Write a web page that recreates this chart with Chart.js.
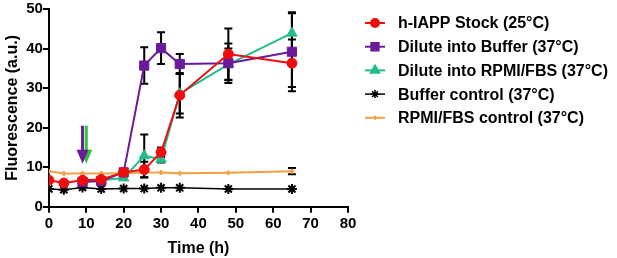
<!DOCTYPE html>
<html>
<head>
<meta charset="utf-8">
<script src="https://cdn.jsdelivr.net/npm/chart.js@4/dist/chart.umd.min.js"></script>
<style>
  html, body { margin: 0; padding: 0; background: #fff; }
  #wrap { width: 617px; height: 258px; }
</style>
</head>
<body>
<div id="wrap"><canvas id="fluoChart" width="617" height="258"></canvas></div>
<script>
// time points (h)
var times = [0, 4, 9, 14, 20, 25.5, 30, 35, 48, 65];

var stock      = [6.7, 6.0, 6.7, 6.9, 8.7, 9.4, 13.8, 28.2, 38.6, 36.3];
var stockErr   = [0, 0, 0, 0, 0, 2.0, 1.2, 5.6, 6.5, 6.0];
var buffer     = [null, null, 6.3, 6.5, 8.7, 35.7, 40.1, 36.1, 36.3, 39.2];
var bufferErr  = [0, 0, 0, 0, 0, 4.6, 4.0, 2.5, 5.0, 10.0];
var rpmi       = [null, null, 6.5, 6.7, 7.3, 12.9, 12.0, 28.6, 36.0, 43.9];
var rpmiErr    = [0, 0, 0, 0, 0, 5.4, 0.8, 5.0, 4.0, 5.0];
var bufCtrl    = [4.5, 4.3, 4.9, 4.5, 4.6, 4.6, 4.8, 4.8, 4.5, 4.5];
var rpmiCtrl   = [9.0, 8.4, 8.4, 8.4, 8.5, 8.7, 8.7, 8.5, 8.6, 9.0];
var rpmiCtrlErr= [0, 0, 0, 0, 0, 0, 0, 0, 0, 0.8];

var labels = ["h-IAPP Stock (25\u00B0C)", "Dilute into Buffer (37\u00B0C)",
              "Dilute into RPMI/FBS (37\u00B0C)", "Buffer control (37\u00B0C)",
              "RPMI/FBS control (37\u00B0C)"];

// dilution arrows: time, top and tip (fluorescence units)
var arrowTimes = [10, 9];
var arrowTop = 20.5;
var arrowTip = 10.9;

var xTicks = [0, 80, 10];
var yTicks = [0, 50, 10];

Chart.defaults.font.family = "'Liberation Sans', Arial, sans-serif";
Chart.defaults.font.weight = "bold";
Chart.defaults.color = "#000";

function pts(vals) {
  return times.map(function (t, i) { return { x: t, y: vals[i] }; });
}

function series(label, vals, errs, color, style, radius, width) {
  return {
    label: label,
    data: pts(vals),
    errs: errs,
    borderColor: color,
    backgroundColor: color,
    pointBackgroundColor: color,
    pointBorderColor: color,
    pointStyle: style,
    pointRadius: radius,
    pointBorderWidth: style === 'star' || style === 'cross' ? 2 : 1,
    borderWidth: width,
    showLine: true,
    spanGaps: false,
    tension: 0
  };
}

var datasets = [
  series(labels[0], stock, stockErr, '#f00d0d', 'circle', 5, 2),
  series(labels[1], buffer, bufferErr, '#6a1b9a', 'rect', 6.5, 2),
  series(labels[2], rpmi, rpmiErr, '#22bd8b', 'triangle', 6, 2),
  series(labels[3], bufCtrl, null, '#000000', 'star', 5, 1.5),
  series(labels[4], rpmiCtrl, rpmiCtrlErr, '#f5a041', 'cross', 2.5, 2)
];

var errorBars = {
  id: 'errorBars',
  beforeDatasetsDraw: function (chart) {
    var ctx = chart.ctx, ys = chart.scales.y;
    ctx.save();
    ctx.strokeStyle = '#000';
    ctx.lineWidth = 2;
    chart.data.datasets.forEach(function (ds, i) {
      if (!ds.errs) return;
      var meta = chart.getDatasetMeta(i);
      ds.errs.forEach(function (e, j) {
        var v = ds.data[j].y;
        if (!e || v === null) return;
        var x = meta.data[j].x;
        var t = ys.getPixelForValue(v + e), b = ys.getPixelForValue(v - e);
        ctx.beginPath();
        ctx.moveTo(x, t); ctx.lineTo(x, b);
        ctx.moveTo(x - 4, t); ctx.lineTo(x + 4, t);
        ctx.moveTo(x - 4, b); ctx.lineTo(x + 4, b);
        ctx.stroke();
      });
    });
    ctx.restore();
  }
};

var arrows = {
  id: 'arrows',
  afterDatasetsDraw: function (chart) {
    var ctx = chart.ctx, xs = chart.scales.x, ys = chart.scales.y;
    var colors = ['#2fc43a', '#6a1b9a'];
    arrowTimes.forEach(function (t, i) {
      var x = xs.getPixelForValue(t);
      var top = ys.getPixelForValue(arrowTop), tip = ys.getPixelForValue(arrowTip);
      ctx.save();
      ctx.strokeStyle = colors[i];
      ctx.fillStyle = colors[i];
      ctx.lineWidth = 3;
      ctx.beginPath(); ctx.moveTo(x, top); ctx.lineTo(x, tip - 12); ctx.stroke();
      ctx.beginPath();
      ctx.moveTo(x - 6, tip - 14); ctx.lineTo(x + 6, tip - 14); ctx.lineTo(x, tip);
      ctx.closePath(); ctx.fill();
      ctx.restore();
    });
  }
};

// legend on the right: short line with marker, then the label
var sideLegend = {
  id: 'sideLegend',
  afterDraw: function (chart) {
    var ctx = chart.ctx, area = chart.chartArea;
    var x0 = area.right + 17, y0 = area.top + 14, step = 23.7;
    ctx.save();
    chart.data.datasets.forEach(function (ds, i) {
      var y = y0 + i * step;
      ctx.strokeStyle = ds.borderColor;
      ctx.lineWidth = ds.borderWidth;
      ctx.beginPath(); ctx.moveTo(x0, y); ctx.lineTo(x0 + 20, y); ctx.stroke();
      ctx.fillStyle = ds.borderColor;
      Chart.helpers.drawPoint(ctx, {
        pointStyle: ds.pointStyle, radius: ds.pointRadius * 0.8, rotation: 0,
        borderWidth: ds.pointBorderWidth
      }, x0 + 10, y);
      ctx.fillStyle = '#000';
      ctx.font = "bold 16px 'Liberation Sans', Arial, sans-serif";
      ctx.textBaseline = 'middle';
      ctx.textAlign = 'left';
      ctx.fillText(ds.label, x0 + 33, y + 1);
    });
    ctx.restore();
  }
};

var axisGrid = {
  display: true, drawOnChartArea: false, drawTicks: true,
  tickLength: 6, color: '#000', lineWidth: 2
};

var fluoChart = new Chart(document.getElementById('fluoChart'), {
  type: 'scatter',
  data: { datasets: datasets },
  plugins: [errorBars, arrows, sideLegend],
  options: {
    responsive: false,
    animation: false,
    layout: { padding: { top: 0, left: 3, right: 269, bottom: 0 } },
    plugins: {
      tooltip: { enabled: false },
      legend: { display: false }
    },
    scales: {
      x: {
        type: 'linear',
        min: xTicks[0], max: xTicks[1],
        ticks: { stepSize: xTicks[2], padding: 2, font: { size: 15, weight: 'bold' } },
        grid: axisGrid,
        border: { color: '#000', width: 2 },
        title: { display: true, text: 'Time (h)', font: { size: 16, weight: 'bold' }, padding: { top: 4, bottom: 0 } }
      },
      y: {
        min: yTicks[0], max: yTicks[1],
        ticks: { stepSize: yTicks[2], padding: 0, font: { size: 15, weight: 'bold' } },
        grid: axisGrid,
        border: { color: '#000', width: 2 },
        title: { display: true, text: 'Fluorescence (a.u.)', font: { size: 16, weight: 'bold' }, padding: { top: 0, bottom: 4 } }
      }
    }
  }
});
</script>
</body>
</html>
